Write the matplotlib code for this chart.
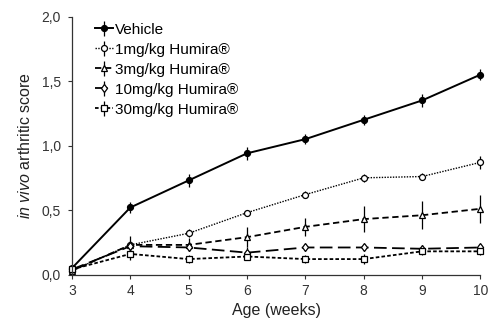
import matplotlib
matplotlib.use('Agg')
import matplotlib.pyplot as plt

plt.rcParams['font.family'] = ['Liberation Sans', 'DejaVu Sans']
plt.rcParams['mathtext.fontset'] = 'custom'
plt.rcParams['mathtext.rm'] = 'Liberation Sans'
plt.rcParams['mathtext.it'] = 'Liberation Sans:italic'

# weeks of age
weeks = [3, 4, 5, 6, 7, 8, 9, 10]

# mean arthritic score per group
vehicle = [0.05, 0.52, 0.73, 0.94, 1.05, 1.20, 1.35, 1.55]
humira_1 = [0.03, 0.23, 0.32, 0.48, 0.62, 0.75, 0.76, 0.87]
humira_3 = [0.03, 0.23, 0.23, 0.29, 0.37, 0.43, 0.46, 0.51]
humira_10 = [0.04, 0.22, 0.21, 0.17, 0.21, 0.21, 0.20, 0.21]
humira_30 = [0.04, 0.16, 0.12, 0.14, 0.12, 0.12, 0.18, 0.18]

# standard error
vehicle_err = [0.02, 0.04, 0.05, 0.05, 0.04, 0.04, 0.05, 0.04]
humira_1_err = [0.01, 0.03, 0.03, 0.02, 0.03, 0.03, 0.03, 0.05]
humira_3_err = [0.01, 0.07, 0.05, 0.08, 0.07, 0.10, 0.11, 0.11]
humira_10_err = [0.01, 0.04, 0.03, 0.04, 0.03, 0.03, 0.03, 0.03]
humira_30_err = [0.01, 0.05, 0.03, 0.03, 0.03, 0.04, 0.03, 0.03]

labels = ['Vehicle', '1mg/kg Humira®', '3mg/kg Humira®',
          '10mg/kg Humira®', '30mg/kg Humira®']

fig = plt.figure(figsize=(4.88, 3.32), dpi=100)
ax = fig.add_axes([0.1475, 0.173, 0.837, 0.777])

series = [
    (vehicle, vehicle_err, 'o', 'black', '-', 1.4),
    (humira_1, humira_1_err, 'o', 'white', (0, (1, 1)), 1.0),
    (humira_3, humira_3_err, '^', 'white', (0, (3.5, 2)), 1.3),
    (humira_10, humira_10_err, 'd', 'white', (0, (7, 3)), 1.3),
    (humira_30, humira_30_err, 's', 'white', (0, (2, 1.2)), 1.3),
]

for (vals, err, mk, fc, ls, lw), lab in zip(series, labels):
    ax.errorbar(weeks, vals, yerr=err, color='black', marker=mk, markersize=4.3,
                markerfacecolor=fc, markeredgecolor='black', markeredgewidth=0.9,
                linestyle=ls, linewidth=lw, elinewidth=0.9, capsize=0,
                label=lab, clip_on=False)

ax.set_xlim(3, 10)
ax.set_ylim(0, 2)
ax.set_xticks(weeks)
ax.set_yticks([0, 0.5, 1.0, 1.5, 2.0])
ax.set_yticklabels(['0,0', '0,5', '1,0', '1,5', '2,0'])
ax.tick_params(direction='out', length=3, width=0.8, labelsize=10, colors='#333333')
ax.tick_params(axis='y', pad=5)

for side in ['top', 'right']:
    ax.spines[side].set_visible(False)
for side in ['left', 'bottom']:
    ax.spines[side].set_linewidth(0.9)
    ax.spines[side].set_color('#333333')

ax.set_xlabel('Age (weeks)', fontsize=11.5, color='#222222', labelpad=4)
ax.set_ylabel(r'$\mathit{in\ vivo}$ arthritic score', fontsize=11.5,
              color='#222222', labelpad=6)

leg = ax.legend(loc='upper left', bbox_to_anchor=(0.042, 1.0), frameon=False,
                fontsize=11, handlelength=1.18, handletextpad=0.13,
                labelspacing=0.39, borderaxespad=0)

fig.savefig('out.png', dpi=100)
